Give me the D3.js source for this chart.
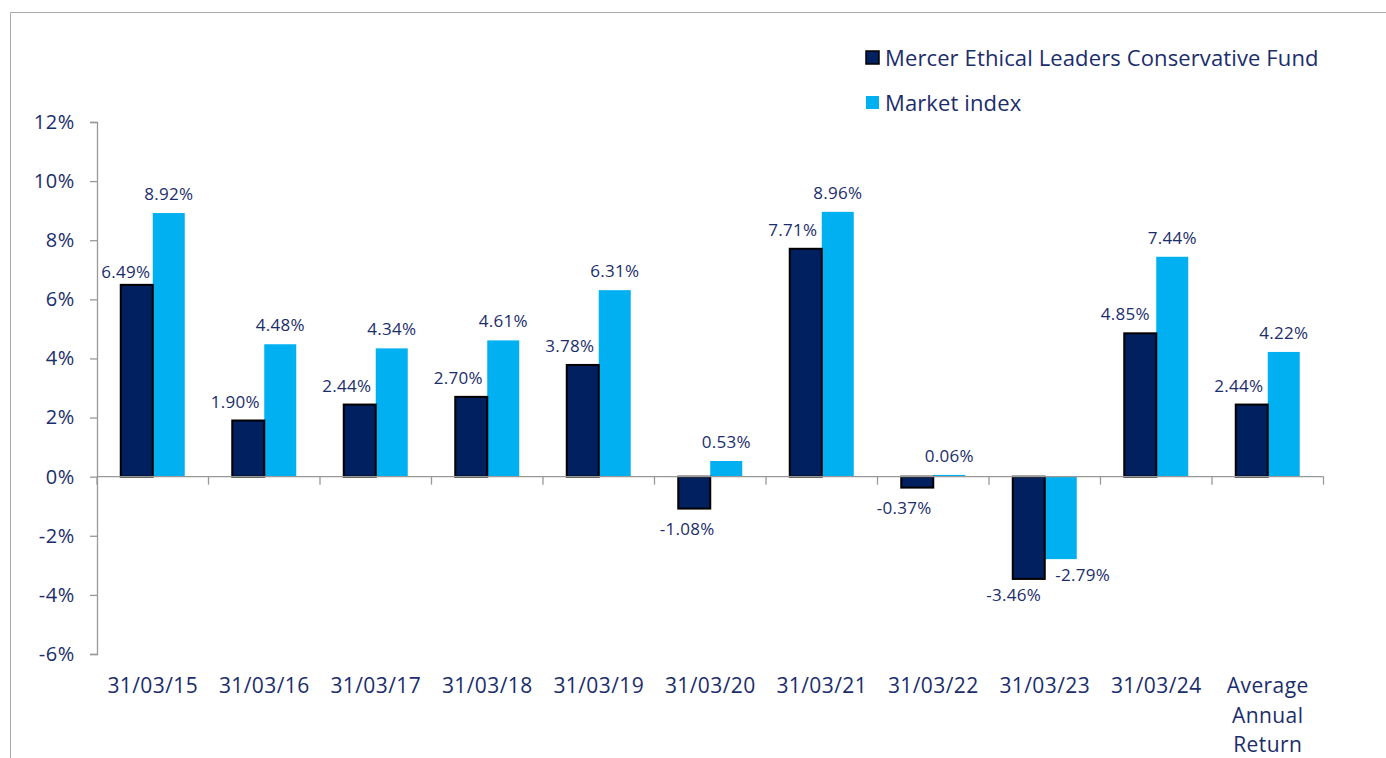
<!DOCTYPE html>
<html>

<head>
  <title>Fund vs Market index</title>
  <style>
    body,
    html {
      margin: 0;
      padding: 0;
      background: #fff;
    }

    svg text {
      font-family: "Open Sans", "Noto Sans", sans-serif;
      fill: #1b2d6b;
    }
  </style>
</head>

<body>
  <svg id="svg" width="1386" height="758"></svg>

  <script src="https://d3js.org/d3.v7.min.js"></script>
  <script>
    const categories = ["31/03/15", "31/03/16", "31/03/17", "31/03/18", "31/03/19", "31/03/20",
      "31/03/21", "31/03/22", "31/03/23", "31/03/24", "Average Annual Return"]
    const fundValues = [6.49, 1.90, 2.44, 2.70, 3.78, -1.08, 7.71, -0.37, -3.46, 4.85, 2.44]
    const indexValues = [8.92, 4.48, 4.34, 4.61, 6.31, 0.53, 8.96, 0.06, -2.79, 7.44, 4.22]
    const seriesNames = ["Mercer Ethical Leaders Conservative Fund", "Market index"]
    const yTicks = [-6, -4, -2, 0, 2, 4, 6, 8, 10, 12]

    const svg = d3.select("#svg")
    const plotLeft = 97, plotRight = 1323.5, plotTop = 122, plotBottom = 654
    const barW = 32

    // frame
    svg.append("path")
      .attr("d", "M10.5,758 V12.5 H1386")
      .attr("fill", "none")
      .attr("stroke", "#aaa")
      .attr("stroke-width", 1)

    const xScale = d3.scaleBand()
      .domain(categories)
      .range([plotLeft, plotRight])

    const yScale = d3.scaleLinear()
      .domain([-6, 12])
      .range([plotBottom, plotTop])

    // y axis
    const yAxis = svg.append("g")
      .attr("transform", `translate(${plotLeft},0)`)
      .call(d3.axisLeft(yScale).tickValues(yTicks).tickSize(7).tickPadding(15).tickFormat(d => d + "%"))
    yAxis.select(".domain").attr("stroke", "#999").attr("stroke-width", 1.3)
    yAxis.selectAll(".tick line").attr("stroke", "#999").attr("stroke-width", 1.3)
    yAxis.selectAll(".tick text")
      .style("font-size", "20px")
      .style("letter-spacing", "0.6px")
      .attr("fill", "#1b2d6b")

    const data = categories.map((c, i) => ({ cat: c, fund: fundValues[i], index: indexValues[i] }))
    const cx = d => xScale(d.cat) + xScale.bandwidth() / 2
    const y0 = yScale(0)

    // index bars
    svg.append("g").selectAll("rect")
      .data(data)
      .join("rect")
      .attr("x", d => cx(d))
      .attr("width", barW)
      .attr("y", d => Math.min(yScale(d.index), y0))
      .attr("height", d => Math.max(Math.abs(yScale(d.index) - y0), 1))
      .attr("fill", "#00b0f0")

    // fund bars
    svg.append("g").selectAll("rect")
      .data(data)
      .join("rect")
      .attr("x", d => cx(d) - barW)
      .attr("width", barW)
      .attr("y", d => Math.min(yScale(d.fund), y0))
      .attr("height", d => Math.abs(yScale(d.fund) - y0))
      .attr("fill", "#002060")
      .attr("stroke", "#000")
      .attr("stroke-width", 2)

    // zero axis with category ticks
    const xAxis = svg.append("g")
      .attr("transform", `translate(0,${y0})`)
    xAxis.append("line")
      .attr("x1", plotLeft).attr("x2", plotRight)
      .attr("stroke", "#999").attr("stroke-width", 1.3)
    xAxis.selectAll(".ctick")
      .data(d3.range(categories.length + 1))
      .join("line")
      .attr("x1", i => plotLeft + i * xScale.step())
      .attr("x2", i => plotLeft + i * xScale.step())
      .attr("y1", 0).attr("y2", 8)
      .attr("stroke", "#999").attr("stroke-width", 1.3)

    // category labels
    svg.append("g").selectAll("text")
      .data(categories)
      .join("text")
      .attr("text-anchor", "middle")
      .attr("y", 693)
      .style("font-size", "21px")
      .style("letter-spacing", "0.4px")
      .each(function (c) {
        const words = c.indexOf("/") > -1 ? [c] : c.split(" ")
        const x = xScale(c) + xScale.bandwidth() / 2
        d3.select(this).selectAll("tspan")
          .data(words)
          .join("tspan")
          .attr("x", x)
          .attr("dy", (w, i) => i === 0 ? 0 : 29.5)
          .text(w => w)
      })

    // value labels (fund labels sit a little left, as in the source layout)
    const fmt = v => v.toFixed(2) + "%"
    const labelY = v => v >= 0 ? yScale(v) - 13 : yScale(v) + 26
    const nudge = { "6.49%": [2, 6], "4.85%": [-2, 0], "-1.08%": [6, 0], "-2.79%": [22, -4], "-3.46%": [-2, -4] }
    const nx = t => (nudge[t] || [0, 0])[0]
    const ny = t => (nudge[t] || [0, 0])[1]

    svg.append("g").selectAll("text")
      .data(data)
      .join("text")
      .attr("text-anchor", "middle")
      .attr("x", d => cx(d) - barW / 2 - 13 + nx(fmt(d.fund)))
      .attr("y", d => labelY(d.fund) + ny(fmt(d.fund)))
      .style("font-size", "17px")
      .style("letter-spacing", "0.3px")
      .text(d => fmt(d.fund))
    svg.append("g").selectAll("text")
      .data(data)
      .join("text")
      .attr("text-anchor", "middle")
      .attr("x", d => cx(d) + barW / 2 + nx(fmt(d.index)))
      .attr("y", d => labelY(d.index) + ny(fmt(d.index)))
      .style("font-size", "17px")
      .style("letter-spacing", "0.3px")
      .text(d => fmt(d.index))

    // legend
    const legend = svg.append("g").attr("transform", "translate(866,0)")
    const legY = [58, 103]
    legend.selectAll("rect")
      .data(seriesNames)
      .join("rect")
      .attr("x", 0)
      .attr("y", (d, i) => legY[i] - 7)
      .attr("width", 13).attr("height", 13)
      .attr("fill", (d, i) => i === 0 ? "#002060" : "#00b0f0")
      .attr("stroke", (d, i) => i === 0 ? "#000" : "none")
      .attr("stroke-width", 1.5)
    legend.selectAll("text")
      .data(seriesNames)
      .join("text")
      .attr("x", 19)
      .attr("y", (d, i) => legY[i])
      .attr("dy", "0.35em")
      .style("font-size", "22px")
      .style("letter-spacing", "0.12px")
      .text(d => d)
  </script>
</body>

</html>
